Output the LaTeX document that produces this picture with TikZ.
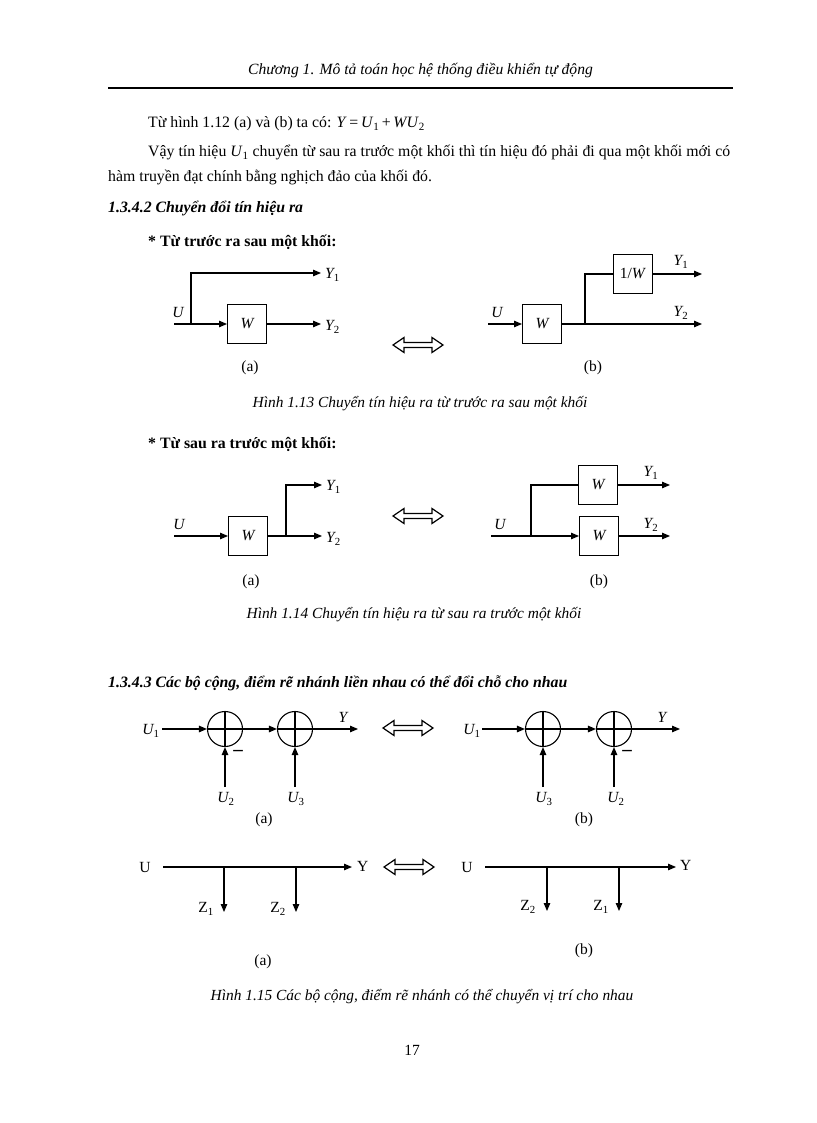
\documentclass[tikz,border=0pt]{standalone}
\usepackage{fontspec}
\setmainfont{Liberation Serif}
\usetikzlibrary{arrows.meta,calc}
\newcommand{\ssb}[1]{\textsubscript{\upshape #1}}
\begin{document}
\begin{tikzpicture}[x=1pt,y=-1pt,
 txt/.style={inner sep=0pt, anchor=base west, font=\fontsize{15.8}{19}\selectfont},
 lbl/.style={inner sep=0pt, font=\fontsize{15.5}{18}\selectfont\itshape},
 rlbl/.style={inner sep=0pt, font=\fontsize{15.5}{18}\selectfont},
 minus/.style={inner sep=0pt, font=\fontsize{19}{20}\selectfont\bfseries},
 capt/.style={inner sep=0pt, font=\fontsize{15.4}{18}\selectfont\itshape},
 blk/.style={draw, line width=1pt, minimum width=39pt, minimum height=39pt, inner sep=0pt, font=\fontsize{15.5}{18}\selectfont\itshape},
 sig/.style={line width=1.1pt, -{Triangle[length=8pt,width=6.5pt]}},
 ln/.style={line width=1.1pt},
 sumc/.style={draw, circle, line width=1.1pt, minimum size=35pt, inner sep=0pt},
 dbl/.pic={\draw[line width=1.2pt] (-25,0) -- (-14,-7.5) -- (-14,-2.5) -- (14,-2.5) -- (14,-7.5) -- (25,0) -- (14,7.5) -- (14,2.5) -- (-14,2.5) -- (-14,7.5) -- cycle;}
]
\useasboundingbox (0,0) rectangle (816,1123);

% header
\node[inner sep=0pt, font=\fontsize{15.6}{18}\selectfont\itshape] (hdr) at (420.5,71) {Chương 1. Mô tả toán học hệ thống điều khiển tự động};
\draw[line width=2pt] (108,88) -- (733,88);

% body
\node[txt] (t1) at (148,128) {Từ hình 1.12 (a) và (b) ta có: \textit{Y}\,=\,\textit{U}\ssb{1}\,+\,\textit{WU}\ssb{2}};
\node[txt] (t2) at (148,157) {\makebox[582pt][s]{Vậy tín hiệu \textit{U}\ssb{1} chuyển từ sau ra trước một khối thì tín hiệu đó phải đi qua một khối mới có}};
\node[txt] (t3) at (108,182) {hàm truyền đạt chính bằng nghịch đảo của khối đó.};
\node[txt] (h1) at (108,213) {\textbf{\textit{1.3.4.2 Chuyển đổi tín hiệu ra}}};
\node[txt] (h2) at (148,247) {\textbf{* Từ trước ra sau một khối:}};

% ---- Fig 1.13 (a)
\node[blk] (wa) at (247,324) {W};
\node[lbl] (ua) at (178,312) {U};
\coordinate (ua0) at (174,324);
\coordinate (ja) at (191,324);
\coordinate (y1a) at (321,273);
\coordinate (y2a) at (321,324);
\draw[sig] (ua0) -- (wa.west);
\draw[sig] (ja) |- (y1a);
\draw[sig] (wa.east) -- (y2a);
\node[lbl, anchor=west] (y1al) at (325,275) {Y\ssb{1}};
\node[lbl, anchor=west] (y2al) at (325,327) {Y\ssb{2}};
\node[rlbl] (la) at (250,368) {(a)};
\pic at (418,345) {dbl};

% ---- Fig 1.13 (b)
\node[blk] (wb) at (542,324) {W};
\node[blk] (iwb) at (633,274) {\upshape 1/\textit{W}};
\node[lbl] (ub) at (497,312) {U};
\coordinate (ub0) at (488,324);
\coordinate (jb) at (585,324);
\coordinate (y1b) at (702,274);
\coordinate (y2b) at (702,324);
\draw[sig] (ub0) -- (wb.west);
\draw[sig] (wb.east) -- (y2b);
\draw[ln] (jb) |- (iwb.west);
\draw[sig] (iwb.east) -- (y1b);
\node[lbl] (y1bl) at (681,262) {Y\ssb{1}};
\node[lbl] (y2bl) at (681,313) {Y\ssb{2}};
\node[rlbl] (lb) at (593,368) {(b)};

\node[capt] (c13) at (420,404) {Hình 1.13 Chuyển tín hiệu ra từ trước ra sau một khối};

\node[txt] (h3) at (148,448) {\textbf{* Từ sau ra trước một khối:}};

% ---- Fig 1.14 (a)
\node[blk] (wc) at (248,536) {W};
\node[lbl] (uc) at (179,524) {U};
\coordinate (uc0) at (174,536);
\coordinate (jc) at (286,536);
\coordinate (y1c) at (322,485);
\coordinate (y2c) at (322,536);
\draw[sig] (uc0) -- (wc.west);
\draw[sig] (wc.east) -- (y2c);
\draw[sig] (jc) |- (y1c);
\node[lbl, anchor=west] (y1cl) at (326,487) {Y\ssb{1}};
\node[lbl, anchor=west] (y2cl) at (326,539) {Y\ssb{2}};
\node[rlbl] (lc) at (251,582) {(a)};
\pic at (418,516) {dbl};

% ---- Fig 1.14 (b)
\node[blk] (wd1) at (598,485) {W};
\node[blk] (wd2) at (599,536) {W};
\node[lbl] (ud) at (500,524) {U};
\coordinate (ud0) at (491,536);
\coordinate (jd) at (531,536);
\coordinate (y1d) at (670,485);
\coordinate (y2d) at (670,536);
\draw[sig] (ud0) -- (wd2.west);
\draw[ln] (jd) |- (wd1.west);
\draw[sig] (wd1.east) -- (y1d);
\draw[sig] (wd2.east) -- (y2d);
\node[lbl] (y1dl) at (651,473) {Y\ssb{1}};
\node[lbl] (y2dl) at (651,525) {Y\ssb{2}};
\node[rlbl] (ld) at (599,582) {(b)};

\node[capt] (c14) at (414,615) {Hình 1.14 Chuyển tín hiệu ra từ sau ra trước một khối};

\node[txt] (h4) at (108,687) {\textbf{\textit{1.3.4.3 Các bộ cộng, điểm rẽ nhánh liền nhau có thể đổi chỗ cho nhau}}};

% ---- Fig 1.15 top (a)
\node[sumc] (s1) at (225,729) {};
\node[sumc] (s2) at (295,729) {};
\draw[ln] (s1.north) -- (s1.south) (s1.west) -- (s1.east);
\draw[ln] (s2.north) -- (s2.south) (s2.west) -- (s2.east);
\node[lbl] (u1e) at (151,731) {U\ssb{1}};
\coordinate (u1e0) at (162,729);
\coordinate (ye) at (358,729);
\coordinate (u2e0) at (225,787);
\coordinate (u3e0) at (295,787);
\draw[sig] (u1e0) -- (s1.west);
\draw[sig] (s1.east) -- (s2.west);
\draw[sig] (s2.east) -- (ye);
\draw[sig] (u2e0) -- (s1.south);
\draw[sig] (u3e0) -- (s2.south);
\node[minus] (m1) at (238,753) {–};
\node[lbl] (yel) at (343,717) {Y};
\node[lbl] (u2e) at (226,799) {U\ssb{2}};
\node[lbl] (u3e) at (296,799) {U\ssb{3}};
\node[rlbl] (le) at (264,820) {(a)};
\pic at (408,728) {dbl};

% ---- Fig 1.15 top (b)
\node[sumc] (s3) at (543,729) {};
\node[sumc] (s4) at (614,729) {};
\draw[ln] (s3.north) -- (s3.south) (s3.west) -- (s3.east);
\draw[ln] (s4.north) -- (s4.south) (s4.west) -- (s4.east);
\node[lbl] (u1f) at (472,731) {U\ssb{1}};
\coordinate (u1f0) at (482,729);
\coordinate (yf) at (680,729);
\coordinate (u3f0) at (543,787);
\coordinate (u2f0) at (614,787);
\draw[sig] (u1f0) -- (s3.west);
\draw[sig] (s3.east) -- (s4.west);
\draw[sig] (s4.east) -- (yf);
\draw[sig] (u3f0) -- (s3.south);
\draw[sig] (u2f0) -- (s4.south);
\node[minus] (m2) at (627,753) {–};
\node[lbl] (yfl) at (662,717) {Y};
\node[lbl] (u3f) at (544,799) {U\ssb{3}};
\node[lbl] (u2f) at (616,799) {U\ssb{2}};
\node[rlbl] (lf) at (584,820) {(b)};

% ---- Fig 1.15 bottom (a)
\node[rlbl] (ug) at (145,867) {U};
\node[rlbl, anchor=west] (yg) at (357,866) {Y};
\coordinate (ug0) at (163,867);
\coordinate (yg0) at (352,867);
\coordinate (bg1) at (224,867);
\coordinate (bg2) at (296,867);
\coordinate (zg1) at (224,912);
\coordinate (zg2) at (296,912);
\draw[sig] (ug0) -- (yg0);
\draw[sig] (bg1) -- (zg1);
\draw[sig] (bg2) -- (zg2);
\node[rlbl] (zg1l) at (206,909) {Z\textsubscript{1}};
\node[rlbl] (zg2l) at (278,909) {Z\textsubscript{2}};
\node[rlbl] (lg) at (263,962) {(a)};
\pic at (409,867) {dbl};

% ---- Fig 1.15 bottom (b)
\node[rlbl] (uh) at (467,867) {U};
\node[rlbl, anchor=west] (yh) at (680,865) {Y};
\coordinate (uh0) at (485,867);
\coordinate (yh0) at (676,867);
\coordinate (bh1) at (547,867);
\coordinate (bh2) at (619,867);
\coordinate (zh1) at (547,911);
\coordinate (zh2) at (619,911);
\draw[sig] (uh0) -- (yh0);
\draw[sig] (bh1) -- (zh1);
\draw[sig] (bh2) -- (zh2);
\node[rlbl] (zh1l) at (528,907) {Z\textsubscript{2}};
\node[rlbl] (zh2l) at (601,907) {Z\textsubscript{1}};
\node[rlbl] (lh) at (584,951) {(b)};

\node[capt] (c15) at (422,997) {Hình 1.15 Các bộ cộng, điểm rẽ nhánh có thể chuyển vị trí cho nhau};
\node[rlbl] (pg) at (412,1050) {17};
\end{tikzpicture}
\end{document}
